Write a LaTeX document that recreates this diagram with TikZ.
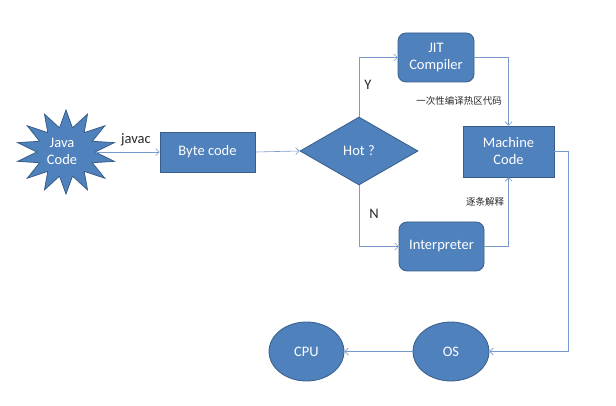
\documentclass[tikz,border=0pt]{standalone}
\usepackage{fontspec}
\setmainfont{Carlito}
\newfontfamily\cjk{Noto Sans CJK SC}
\usetikzlibrary{shapes.geometric,arrows.meta,calc}
\definecolor{boxblue}{RGB}{79,129,189}
\definecolor{boxedge}{RGB}{56,93,138}
\definecolor{linkblue}{RGB}{120,155,205}

\begin{document}
\begin{tikzpicture}[x=1pt,y=-1pt,font=\fontsize{14.5}{17}\selectfont]
\tikzstyle{block}=[draw=boxedge,fill=boxblue,text=white,line width=0.8pt,align=center,inner sep=2pt]
\tikzstyle{link}=[draw=linkblue,line width=0.6pt,-{Straight Barb[length=3.5pt,width=7pt]}]
\tikzstyle{note}=[inner sep=1pt,text=black!85]
\useasboundingbox (0,0) rectangle (616,406);

% star with its text on top
\node (java) [block,star,star points=14,star point ratio=1.7,minimum size=84pt,xscale=1.18,transform shape] at (66,152) {};
\node (javatext) [text=white,align=center] at (62,151) {Java\\Code};

\node (byte) [block,minimum width=95pt,minimum height=40pt] at (207.5,152) {Byte code};
\node (hot) [block,diamond,minimum width=118pt,minimum height=68pt] at (359,151) {Hot ?};
\node (jit) [block,rounded corners=8pt,minimum width=76pt,minimum height=49pt] at (436,57.5) {JIT\\Compiler};
\node (interp) [block,rounded corners=8pt,minimum width=85pt,minimum height=49pt] at (441.5,246.5) {Interpreter};
\node (machine) [block,minimum width=91pt,minimum height=51pt] at (508.5,151.5) {Machine\\Code};
\node (os) [block,ellipse,minimum width=76pt,minimum height=59pt] at (451,351.5) {OS};
\node (cpu) [block,ellipse,minimum width=75pt,minimum height=59pt] at (306.5,351.5) {CPU};
\coordinate (turn) at (568,151.5);

\draw [link] (java.east) -- (byte.west);
\draw [link] (byte.east) -- (hot.west);
\draw [link] (hot.north) |- (jit.west);
\draw [link] (hot.south) |- (interp.west);
\draw [link] (jit.east) -| (machine.north);
\draw [link] (interp.east) -| (machine.south);
\draw [link] (machine.east) -- (turn) |- (os.east);
\draw [link] (os.west) -- (cpu.east);

\node (javac) [note] at (136,140) {javac};
\node (yes) [note] at (368,85) {Y};
\node (no) [note] at (374,214) {N};
\node (hotlabel) [note,font=\cjk\fontsize{9.5}{11}\selectfont] at (459,101) {一次性编译热区代码};
\node (steplabel) [note,font=\cjk\fontsize{9.5}{11}\selectfont] at (485,202) {逐条解释};
\end{tikzpicture}
\end{document}
